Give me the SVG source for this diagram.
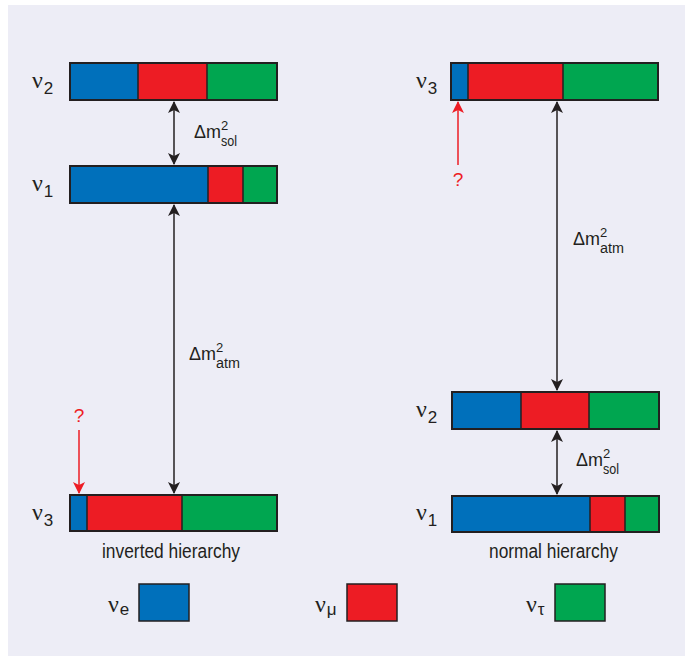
<svg xmlns="http://www.w3.org/2000/svg" width="685" height="660" viewBox="0 0 685 660">
<defs>
<marker id="ah" viewBox="0 0 12 12" refX="11" refY="6" markerWidth="12" markerHeight="12" markerUnits="userSpaceOnUse" orient="auto-start-reverse">
<path d="M0,0 L12,6 L0,12 L3,6 Z" fill="#231f20"/>
</marker>
<marker id="ahr" viewBox="0 0 12 12" refX="11" refY="6" markerWidth="12" markerHeight="12" markerUnits="userSpaceOnUse" orient="auto-start-reverse">
<path d="M0,0 L12,6 L0,12 L3,6 Z" fill="#ed1c24"/>
</marker>
</defs>
<style>
.b{fill:#0070bb}.r{fill:#ed1c24}.g{fill:#00a650}
.sep{stroke:#231f20;stroke-width:1.5}
.frame{fill:none;stroke:#231f20;stroke-width:2}
.nu{font-family:"Liberation Serif","DejaVu Serif",serif;font-size:24px;fill:#231f20}
.sub{font-family:"Liberation Sans","DejaVu Sans",sans-serif;font-size:17px;fill:#231f20}
.dm{font-family:"Liberation Sans","DejaVu Sans",sans-serif;font-size:19px;fill:#231f20}
.sup{font-family:"Liberation Sans","DejaVu Sans",sans-serif;font-size:13px;fill:#231f20}
.dms{font-family:"Liberation Sans","DejaVu Sans",sans-serif;font-size:14px;fill:#231f20}
.cap{font-family:"Liberation Sans","DejaVu Sans",sans-serif;font-size:20px;fill:#231f20}
.q{font-family:"Liberation Sans","DejaVu Sans",sans-serif;font-size:19px;fill:#ed1c24;text-anchor:middle}
.arr{stroke:#231f20;stroke-width:1.5;fill:none}
.arrr{stroke:#ed1c24;stroke-width:1.5;fill:none}
</style>
<rect x="8" y="5" width="677" height="651" fill="#ededf6"/>

<g id="inv-nu2">
<rect class="b" x="70" y="63" width="68" height="37"/><rect class="r" x="138" y="63" width="69" height="37"/><rect class="g" x="207" y="63" width="70" height="37"/>
<line class="sep" x1="138" y1="63" x2="138" y2="100"/><line class="sep" x1="207" y1="63" x2="207" y2="100"/>
<rect class="frame" x="70" y="63" width="207" height="37"/>
<text class="nu" x="32" y="88">ν<tspan class="sub" dx="1" dy="6">2</tspan></text>
</g>
<g id="inv-nu1">
<rect class="b" x="70" y="166" width="138" height="37"/><rect class="r" x="208" y="166" width="35" height="37"/><rect class="g" x="243" y="166" width="34" height="37"/>
<line class="sep" x1="208" y1="166" x2="208" y2="203"/><line class="sep" x1="243" y1="166" x2="243" y2="203"/>
<rect class="frame" x="70" y="166" width="207" height="37"/>
<text class="nu" x="32" y="191">ν<tspan class="sub" dx="1" dy="6">1</tspan></text>
</g>
<g id="inv-nu3">
<rect class="b" x="70" y="495" width="17" height="36"/><rect class="r" x="87" y="495" width="95" height="36"/><rect class="g" x="182" y="495" width="95" height="36"/>
<line class="sep" x1="87" y1="495" x2="87" y2="531"/><line class="sep" x1="182" y1="495" x2="182" y2="531"/>
<rect class="frame" x="70" y="495" width="207" height="36"/>
<text class="nu" x="32" y="520">ν<tspan class="sub" dx="1" dy="6">3</tspan></text>
<text class="cap" x="102" y="558" textLength="138" lengthAdjust="spacingAndGlyphs">inverted hierarchy</text>
</g>

<g id="nor-nu3">
<rect class="b" x="451" y="63" width="17" height="37"/><rect class="r" x="468" y="63" width="95" height="37"/><rect class="g" x="563" y="63" width="95" height="37"/>
<line class="sep" x1="468" y1="63" x2="468" y2="100"/><line class="sep" x1="563" y1="63" x2="563" y2="100"/>
<rect class="frame" x="451" y="63" width="207" height="37"/>
<text class="nu" x="416" y="88">ν<tspan class="sub" dx="1" dy="6">3</tspan></text>
</g>
<g id="nor-nu2">
<rect class="b" x="452" y="392" width="69" height="37"/><rect class="r" x="521" y="392" width="68" height="37"/><rect class="g" x="589" y="392" width="70" height="37"/>
<line class="sep" x1="521" y1="392" x2="521" y2="429"/><line class="sep" x1="589" y1="392" x2="589" y2="429"/>
<rect class="frame" x="452" y="392" width="207" height="37"/>
<text class="nu" x="416" y="417">ν<tspan class="sub" dx="1" dy="6">2</tspan></text>
</g>
<g id="nor-nu1">
<rect class="b" x="452" y="496" width="138" height="36"/><rect class="r" x="590" y="496" width="35" height="36"/><rect class="g" x="625" y="496" width="34" height="36"/>
<line class="sep" x1="590" y1="496" x2="590" y2="532"/><line class="sep" x1="625" y1="496" x2="625" y2="532"/>
<rect class="frame" x="452" y="496" width="207" height="36"/>
<text class="nu" x="416" y="520">ν<tspan class="sub" dx="1" dy="6">1</tspan></text>
<text class="cap" x="489" y="558" textLength="129" lengthAdjust="spacingAndGlyphs">normal hierarchy</text>
</g>

<g id="legend-e">
<text class="nu" x="108" y="612">ν<tspan class="sub" dx="1" dy="3">e</tspan></text>
<rect class="b" x="139" y="584" width="50" height="37" stroke="#231f20" stroke-width="1.5"/>
</g>
<g id="legend-mu">
<text class="nu" x="315" y="612">ν<tspan class="sub" dx="1" dy="3">μ</tspan></text>
<rect class="r" x="347" y="584" width="50" height="37" stroke="#231f20" stroke-width="1.5"/>
</g>
<g id="legend-tau">
<text class="nu" x="526" y="612">ν<tspan class="sub" dx="1" dy="3">τ</tspan></text>
<rect class="g" x="555" y="584" width="50" height="37" stroke="#231f20" stroke-width="1.5"/>
</g>

<g id="connectors">
<line class="arr" x1="174" y1="102" x2="174" y2="164" marker-start="url(#ah)" marker-end="url(#ah)"/>
<line class="arr" x1="174" y1="205" x2="174" y2="493" marker-start="url(#ah)" marker-end="url(#ah)"/>
<line class="arrr" x1="79" y1="430" x2="79" y2="493" marker-end="url(#ahr)"/>
<line class="arrr" x1="458" y1="165" x2="458" y2="102" marker-end="url(#ahr)"/>
<line class="arr" x1="557" y1="102" x2="557" y2="390" marker-start="url(#ah)" marker-end="url(#ah)"/>
<line class="arr" x1="557" y1="431" x2="557" y2="494" marker-start="url(#ah)" marker-end="url(#ah)"/>
</g>

<g id="labels">
<text class="dm" x="194" y="138" textLength="27" lengthAdjust="spacingAndGlyphs">Δm</text>
<text class="sup" x="221" y="130">2</text>
<text class="dms" x="221" y="146" textLength="16" lengthAdjust="spacingAndGlyphs">sol</text>

<text class="dm" x="189" y="360" textLength="27" lengthAdjust="spacingAndGlyphs">Δm</text>
<text class="sup" x="216" y="352">2</text>
<text class="dms" x="216" y="368" textLength="24" lengthAdjust="spacingAndGlyphs">atm</text>

<text class="dm" x="573" y="245" textLength="27" lengthAdjust="spacingAndGlyphs">Δm</text>
<text class="sup" x="600" y="237">2</text>
<text class="dms" x="600" y="253" textLength="24" lengthAdjust="spacingAndGlyphs">atm</text>

<text class="dm" x="576" y="466" textLength="27" lengthAdjust="spacingAndGlyphs">Δm</text>
<text class="sup" x="603" y="458">2</text>
<text class="dms" x="603" y="474" textLength="16" lengthAdjust="spacingAndGlyphs">sol</text>

<text class="q" x="79" y="422">?</text>
<text class="q" x="458" y="186">?</text>
</g>
</svg>
